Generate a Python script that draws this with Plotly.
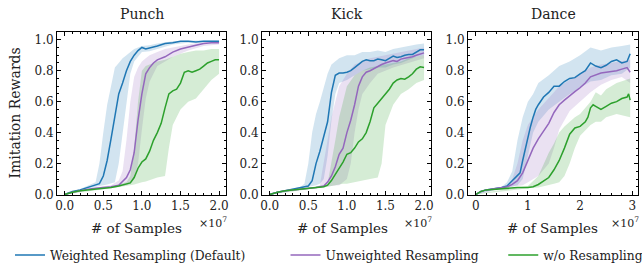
import plotly.graph_objects as go
from plotly.subplots import make_subplots

tasks = ["Punch", "Kick", "Dance"]
series_names = ["Weighted Resampling (Default)", "Unweighted Resampling", "w/o Resampling"]
line_colors = ["#1f77b4", "#9467bd", "#2ca02c"]
band_colors = ["rgba(31,119,180,0.2)", "rgba(148,103,189,0.2)", "rgba(44,160,44,0.2)"]

# ---------------- Punch ----------------
punch_blue_x = [0,0.05,0.1,0.2,0.3,0.4,0.45,0.5,0.55,0.6,0.65,0.7,0.75,0.8,0.85,0.9,0.95,1.0,1.05,1.1,1.2,1.3,1.4,1.5,1.6,1.7,1.8,1.9,2.0]
punch_blue_y = [0,0.01,0.02,0.03,0.045,0.06,0.07,0.12,0.22,0.36,0.5,0.65,0.72,0.8,0.86,0.9,0.93,0.95,0.94,0.945,0.96,0.975,0.98,0.99,0.99,0.985,0.99,0.99,0.99]
punch_blue_bx = [0,0.2,0.4,0.45,0.5,0.55,0.6,0.65,0.7,0.75,0.8,0.85,0.9,1.0,1.1,1.2,1.4,1.6,1.8,2.0]
punch_blue_hi = [0.005,0.035,0.08,0.2,0.4,0.58,0.7,0.82,0.85,0.88,0.9,0.92,0.94,0.96,0.965,0.975,0.99,0.995,0.995,0.995]
punch_blue_lo = [0,0.025,0.05,0.055,0.06,0.065,0.07,0.08,0.2,0.38,0.58,0.78,0.86,0.92,0.925,0.94,0.97,0.98,0.985,0.985]

punch_purple_x = [0,0.1,0.2,0.3,0.4,0.5,0.6,0.7,0.75,0.8,0.85,0.9,0.95,1.0,1.05,1.1,1.15,1.2,1.3,1.4,1.5,1.6,1.7,1.8,1.9,2.0]
punch_purple_y = [0,0.015,0.025,0.035,0.04,0.045,0.05,0.06,0.085,0.11,0.16,0.27,0.48,0.65,0.78,0.82,0.85,0.87,0.89,0.92,0.94,0.955,0.965,0.975,0.98,0.98]
punch_purple_bx = [0,0.4,0.6,0.7,0.75,0.8,0.85,0.9,0.95,1.0,1.05,1.1,1.2,1.3,1.4,1.6,1.8,2.0]
punch_purple_hi = [0.005,0.045,0.06,0.09,0.15,0.35,0.6,0.76,0.82,0.86,0.88,0.9,0.92,0.94,0.95,0.97,0.985,0.99]
punch_purple_lo = [0,0.035,0.045,0.05,0.055,0.06,0.07,0.1,0.2,0.42,0.62,0.73,0.83,0.86,0.89,0.93,0.96,0.97]

punch_green_x = [0,0.1,0.2,0.3,0.4,0.5,0.6,0.7,0.8,0.85,0.9,0.95,1.0,1.05,1.1,1.15,1.2,1.25,1.3,1.35,1.4,1.45,1.5,1.55,1.6,1.65,1.7,1.75,1.8,1.85,1.9,1.95,2.0]
punch_green_y = [0,0.015,0.025,0.03,0.035,0.04,0.045,0.055,0.065,0.075,0.11,0.17,0.21,0.23,0.28,0.35,0.4,0.46,0.56,0.65,0.67,0.68,0.72,0.79,0.8,0.79,0.8,0.81,0.83,0.85,0.86,0.87,0.87]
punch_green_bx = [0,0.6,0.8,0.85,0.9,0.95,1.0,1.05,1.1,1.2,1.3,1.35,1.4,1.45,1.5,1.6,1.7,1.8,1.9,2.0]
punch_green_hi = [0.005,0.05,0.08,0.12,0.3,0.6,0.8,0.83,0.84,0.86,0.87,0.88,0.89,0.9,0.91,0.92,0.93,0.93,0.94,0.94]
punch_green_lo = [0,0.04,0.055,0.06,0.065,0.07,0.08,0.085,0.09,0.11,0.12,0.3,0.45,0.5,0.55,0.6,0.62,0.68,0.74,0.78]

# ---------------- Kick ----------------
kick_blue_x = [0,0.1,0.2,0.3,0.4,0.5,0.55,0.6,0.65,0.7,0.75,0.8,0.85,0.9,0.95,1.0,1.05,1.1,1.15,1.2,1.25,1.3,1.35,1.4,1.45,1.5,1.55,1.6,1.65,1.7,1.75,1.8,1.85,1.9,1.95,2.0]
kick_blue_y = [0,0.015,0.025,0.035,0.045,0.055,0.09,0.2,0.28,0.37,0.47,0.66,0.77,0.785,0.785,0.79,0.8,0.82,0.84,0.86,0.87,0.865,0.865,0.875,0.87,0.865,0.88,0.895,0.885,0.89,0.9,0.905,0.905,0.92,0.935,0.935]
kick_blue_bx = [0,0.4,0.45,0.5,0.55,0.6,0.65,0.7,0.75,0.8,0.85,0.9,1.0,1.1,1.2,1.3,1.4,1.5,1.6,1.7,1.8,1.9,2.0]
kick_blue_hi = [0.005,0.05,0.07,0.2,0.4,0.52,0.6,0.7,0.78,0.84,0.86,0.88,0.9,0.9,0.92,0.92,0.93,0.92,0.94,0.95,0.96,0.97,0.975]
kick_blue_lo = [0,0.04,0.045,0.05,0.055,0.06,0.07,0.1,0.25,0.48,0.65,0.72,0.74,0.77,0.8,0.81,0.82,0.82,0.84,0.85,0.87,0.89,0.9]

kick_purple_x = [0,0.1,0.2,0.3,0.4,0.5,0.6,0.7,0.75,0.8,0.85,0.9,0.95,1.0,1.05,1.1,1.15,1.2,1.25,1.3,1.35,1.4,1.45,1.5,1.55,1.6,1.65,1.7,1.75,1.8,1.85,1.9,1.95,2.0]
kick_purple_y = [0,0.015,0.025,0.03,0.035,0.04,0.045,0.055,0.08,0.12,0.18,0.26,0.3,0.4,0.48,0.58,0.7,0.76,0.79,0.8,0.815,0.83,0.84,0.85,0.86,0.865,0.86,0.875,0.88,0.885,0.89,0.9,0.91,0.915]
kick_purple_bx = [0,0.5,0.6,0.65,0.7,0.75,0.8,0.85,0.9,1.0,1.05,1.1,1.15,1.2,1.3,1.4,1.6,1.8,2.0]
kick_purple_hi = [0.005,0.045,0.05,0.06,0.2,0.35,0.5,0.6,0.7,0.78,0.81,0.84,0.85,0.86,0.88,0.89,0.91,0.93,0.95]
kick_purple_lo = [0,0.035,0.04,0.045,0.05,0.05,0.055,0.058,0.06,0.1,0.2,0.4,0.55,0.65,0.72,0.78,0.82,0.85,0.88]

kick_green_x = [0,0.1,0.2,0.3,0.4,0.5,0.6,0.7,0.75,0.8,0.85,0.9,0.95,1.0,1.05,1.1,1.15,1.2,1.25,1.3,1.35,1.4,1.45,1.5,1.55,1.6,1.65,1.7,1.75,1.8,1.85,1.9,1.95,2.0]
kick_green_y = [0,0.015,0.025,0.03,0.035,0.04,0.045,0.05,0.06,0.09,0.13,0.17,0.21,0.26,0.27,0.3,0.34,0.36,0.4,0.47,0.56,0.59,0.62,0.65,0.68,0.72,0.74,0.75,0.745,0.76,0.78,0.81,0.825,0.82]
kick_green_bx = [0,0.6,0.7,0.75,0.8,0.85,0.9,0.95,1.0,1.1,1.2,1.3,1.4,1.45,1.5,1.6,1.7,1.8,1.9,2.0]
kick_green_hi = [0.005,0.05,0.06,0.07,0.2,0.35,0.5,0.6,0.7,0.77,0.8,0.82,0.83,0.84,0.84,0.85,0.86,0.88,0.89,0.9]
kick_green_lo = [0,0.04,0.045,0.05,0.055,0.06,0.065,0.07,0.07,0.08,0.09,0.1,0.11,0.2,0.45,0.58,0.65,0.68,0.72,0.74]

# ---------------- Dance ----------------
dance_blue_x = [0,0.1,0.2,0.3,0.4,0.5,0.6,0.7,0.8,0.85,0.9,0.95,1.0,1.05,1.1,1.15,1.2,1.3,1.4,1.5,1.6,1.7,1.8,1.9,2.0,2.1,2.2,2.3,2.4,2.5,2.6,2.7,2.8,2.9,2.96]
dance_blue_y = [0,0.02,0.03,0.035,0.04,0.045,0.055,0.09,0.12,0.14,0.22,0.3,0.37,0.44,0.5,0.55,0.58,0.63,0.66,0.7,0.7,0.73,0.75,0.755,0.78,0.8,0.85,0.83,0.82,0.835,0.86,0.87,0.85,0.86,0.91]
dance_blue_bx = [0,0.5,0.6,0.7,0.8,0.9,1.0,1.1,1.2,1.4,1.6,1.8,2.0,2.2,2.4,2.6,2.8,2.96]
dance_blue_hi = [0.005,0.05,0.08,0.15,0.35,0.5,0.6,0.65,0.72,0.77,0.83,0.86,0.9,0.95,0.93,0.95,0.96,0.97]
dance_blue_lo = [0,0.04,0.045,0.05,0.06,0.1,0.25,0.4,0.47,0.55,0.6,0.65,0.69,0.73,0.74,0.77,0.78,0.82]

dance_purple_x = [0,0.1,0.2,0.3,0.4,0.5,0.6,0.7,0.8,0.9,1.0,1.1,1.2,1.3,1.4,1.5,1.6,1.7,1.8,1.9,2.0,2.1,2.2,2.3,2.4,2.5,2.6,2.7,2.8,2.9,2.96]
dance_purple_y = [0,0.02,0.03,0.035,0.04,0.045,0.05,0.065,0.09,0.14,0.22,0.3,0.36,0.41,0.46,0.53,0.58,0.61,0.64,0.665,0.69,0.72,0.76,0.775,0.785,0.79,0.795,0.8,0.81,0.82,0.79]
dance_purple_bx = [0,0.6,0.7,0.8,0.9,1.0,1.2,1.4,1.5,1.6,1.8,2.0,2.2,2.4,2.6,2.8,2.96]
dance_purple_hi = [0.005,0.055,0.1,0.2,0.35,0.45,0.55,0.62,0.66,0.7,0.74,0.78,0.82,0.84,0.85,0.86,0.87]
dance_purple_lo = [0,0.045,0.05,0.055,0.06,0.08,0.12,0.2,0.3,0.42,0.54,0.6,0.66,0.71,0.74,0.76,0.72]

dance_green_x = [0,0.1,0.2,0.4,0.6,0.8,1.0,1.1,1.2,1.3,1.4,1.5,1.6,1.7,1.8,1.9,2.0,2.1,2.15,2.2,2.25,2.3,2.4,2.5,2.6,2.7,2.8,2.9,2.93,2.96]
dance_green_y = [0,0.02,0.03,0.035,0.04,0.045,0.045,0.05,0.065,0.085,0.11,0.16,0.22,0.3,0.39,0.43,0.44,0.47,0.5,0.56,0.58,0.57,0.55,0.57,0.59,0.6,0.62,0.63,0.65,0.61]
dance_green_bx = [0,1.0,1.2,1.3,1.4,1.5,1.6,1.7,1.8,1.9,2.0,2.2,2.3,2.4,2.5,2.7,2.96]
dance_green_hi = [0.005,0.055,0.12,0.2,0.27,0.33,0.4,0.44,0.47,0.5,0.52,0.6,0.66,0.64,0.68,0.72,0.75]
dance_green_lo = [0,0.04,0.045,0.05,0.06,0.07,0.08,0.12,0.2,0.3,0.38,0.45,0.47,0.47,0.5,0.52,0.5]

panels = [
    [(punch_blue_x, punch_blue_y, punch_blue_bx, punch_blue_lo, punch_blue_hi),
     (punch_purple_x, punch_purple_y, punch_purple_bx, punch_purple_lo, punch_purple_hi),
     (punch_green_x, punch_green_y, punch_green_bx, punch_green_lo, punch_green_hi)],
    [(kick_blue_x, kick_blue_y, kick_blue_bx, kick_blue_lo, kick_blue_hi),
     (kick_purple_x, kick_purple_y, kick_purple_bx, kick_purple_lo, kick_purple_hi),
     (kick_green_x, kick_green_y, kick_green_bx, kick_green_lo, kick_green_hi)],
    [(dance_blue_x, dance_blue_y, dance_blue_bx, dance_blue_lo, dance_blue_hi),
     (dance_purple_x, dance_purple_y, dance_purple_bx, dance_purple_lo, dance_purple_hi),
     (dance_green_x, dance_green_y, dance_green_bx, dance_green_lo, dance_green_hi)],
]

FONT = "DejaVu Serif"
TXT = "#222"
W, H = 642, 266
ML, MR, MT, MB = 4, 2, 32, 71
PW = W - ML - MR

def px(p):
    return (p - ML) / PW

domains = [[px(57), px(226)], [px(262), px(431)], [px(468), px(638)]]

# trailing non-breaking spaces widen the gaps between legend entries
legend_pad = ["\u00a0" * 9, "\u00a0" * 5, ""]

fig = make_subplots(rows=1, cols=3)

for ci, series in enumerate(panels):
    col = ci + 1
    for si, (x, y, bx, lo, hi) in enumerate(series):
        fig.add_trace(go.Scatter(
            x=list(bx) + list(bx)[::-1], y=list(hi) + list(lo)[::-1],
            fill="toself", fillcolor=band_colors[si], line=dict(width=0),
            mode="lines", hoverinfo="skip", showlegend=False), row=1, col=col)
    for si, (x, y, bx, lo, hi) in enumerate(series):
        fig.add_trace(go.Scatter(
            x=x, y=y, mode="lines", line=dict(color=line_colors[si], width=1.5),
            name=series_names[si] + legend_pad[si], showlegend=(ci == 0)), row=1, col=col)

xranges = [[-0.1, 2.09], [-0.1, 2.09], [-0.148, 3.11]]
xdticks = [0.5, 0.5, 1]
xminor = [0.1, 0.1, 0.2]
xfmt = [".1f", ".1f", "d"]

axis_common = dict(showline=True, linecolor="black", linewidth=1, mirror="ticks",
                   ticks="inside", ticklen=4, tickcolor="black", tickwidth=1,
                   showgrid=False, zeroline=False, automargin=False,
                   tickfont=dict(family=FONT, size=12, color=TXT))

for i in range(3):
    fig.update_xaxes(range=xranges[i], dtick=xdticks[i], tick0=0, tickformat=xfmt[i],
                     domain=domains[i],
                     minor=dict(ticks="inside", dtick=xminor[i], ticklen=2, tickcolor="black"),
                     **axis_common, row=1, col=i + 1)
    fig.update_yaxes(range=[-0.003, 1.05], dtick=0.2, tick0=0, tickformat=".1f",
                     minor=dict(ticks="inside", dtick=0.05, ticklen=2, tickcolor="black"),
                     **axis_common, row=1, col=i + 1)

xshifts = [-5, -4, -1]
annotations = []
for i, t in enumerate(tasks):
    cx = (domains[i][0] + domains[i][1]) / 2
    annotations.append(dict(text=t, x=cx, y=1, xref="paper", yref="paper",
                            xanchor="center", yanchor="middle", yshift=18, showarrow=False,
                            font=dict(family=FONT, size=14, color=TXT)))
    annotations.append(dict(text="# of Samples", x=cx, y=0, xref="paper", yref="paper",
                            xanchor="center", yanchor="middle", yshift=-33, xshift=xshifts[i],
                            showarrow=False, font=dict(family=FONT, size=13.5, color=TXT)))
    annotations.append(dict(text="×10<sup>7</sup>", x=domains[i][1], y=0, xref="paper", yref="paper",
                            xanchor="right", yanchor="middle", yshift=-27, xshift=3, showarrow=False,
                            font=dict(family=FONT, size=11, color=TXT)))
annotations.append(dict(text="Imitation Rewards", x=px(14), y=0.5, xref="paper", yref="paper",
                        xanchor="center", yanchor="middle", textangle=-90, showarrow=False,
                        font=dict(family=FONT, size=14, color=TXT)))

fig.update_layout(
    width=W, height=H, margin=dict(l=ML, r=MR, t=MT, b=MB),
    paper_bgcolor="white", plot_bgcolor="white",
    annotations=annotations,
    legend=dict(orientation="h", x=10 / W, y=11 / H, xanchor="left", yanchor="middle",
                yref="container", xref="container",
                font=dict(family=FONT, size=12.3, color=TXT), itemwidth=30,
                bgcolor="rgba(0,0,0,0)"),
)

fig.write_html("out.html", config={"displayModeBar": False},
               post_script="document.body.style.margin='0';document.body.style.padding='0';")
